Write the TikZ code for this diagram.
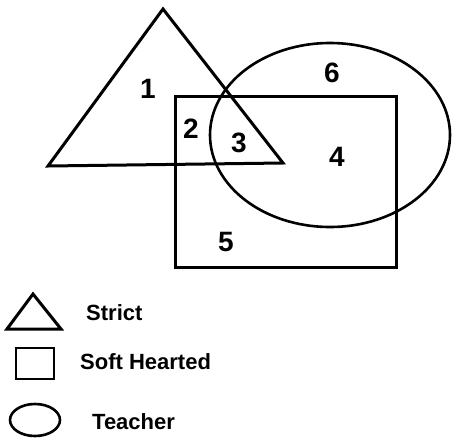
\documentclass[tikz,border=0pt]{standalone}
\usepackage{fontspec}
\setmainfont{Liberation Sans}
\begin{document}
\begin{tikzpicture}[x=1pt,y=-1pt,
  outline/.style={draw=black,line width=3pt,line join=miter},
  thin outline/.style={draw=black,line width=2.6pt},
  region/.style={font=\fontsize{28}{28}\selectfont\bfseries,inner sep=0pt},
  legendtext/.style={font=\fontsize{22}{22}\selectfont\bfseries,anchor=west,inner sep=0pt}]
\useasboundingbox (0,0) rectangle (453,445);
% main figure
\draw[outline] (163,9) -- (48,166) -- (283,163) -- cycle;
\draw[outline] (175,96) rectangle (396,267);
\draw[thin outline] (330,135) ellipse [x radius=120, y radius=92];
\node[region] (r1) at (148,89) {1};
\node[region] (r2) at (191,129) {2};
\node[region] (r3) at (239,143) {3};
\node[region] (r4) at (337,157) {4};
\node[region] (r5) at (226,242) {5};
\node[region] (r6) at (332,73) {6};
% legend
\draw[outline] (33,294) -- (7,329) -- (61,329) -- cycle;
\draw[thin outline] (16,348) rectangle (54,379);
\draw[thin outline] (35,420) ellipse [x radius=25, y radius=16];
\node[legendtext] (l1) at (86,313) {Strict};
\node[legendtext] (l2) at (80,362) {Soft Hearted};
\node[legendtext] (l3) at (92,422) {Teacher};
\end{tikzpicture}
\end{document}
